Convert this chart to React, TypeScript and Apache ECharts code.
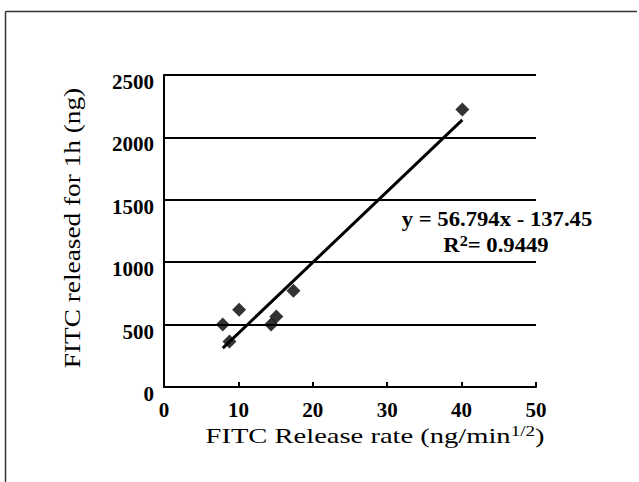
import React, { useEffect, useRef } from "react";
import * as echarts from "echarts";

const releaseRate = [7.9, 8.8, 10.1, 14.4, 15.1, 17.4, 40.1];
const released = [500, 365, 619, 500, 564, 771, 2223];
const slope = 56.794;
const intercept = -137.45;
const rSquared = "0.9449";
const xTicks = [0, 10, 20, 30, 40, 50];
const yTicks = [0, 500, 1000, 1500, 2000, 2500];

const FONT = "Liberation Serif";

export default function App() {
  const ref = useRef<HTMLDivElement>(null);
  useEffect(() => {
    if (!ref.current) return;
    const chart = echarts.init(ref.current, null, { renderer: "svg" });
    const pts = releaseRate.map((x, i) => [x, released[i]]);
    const xMin = Math.min(...releaseRate);
    const xMax = Math.max(...releaseRate);
    const trend = [
      [xMin, slope * xMin + intercept],
      [xMax, slope * xMax + intercept],
    ];
    chart.setOption({
      animation: false,
      backgroundColor: "#ffffff",
      grid: { left: 164, right: 103, top: 75, bottom: 95, containLabel: false },
      xAxis: {
        type: "value",
        min: xTicks[0],
        max: xTicks[xTicks.length - 1],
        interval: 10,
        axisLine: { show: true, onZero: false, lineStyle: { color: "#000", width: 2 } },
        axisTick: { show: true, inside: true, length: 5, lineStyle: { color: "#000", width: 2 } },
        splitLine: { show: false },
        axisLabel: {
          color: "#000",
          fontFamily: FONT,
          fontWeight: "bold",
          fontSize: 21,
          margin: 12,
        },
      },
      yAxis: {
        type: "value",
        min: yTicks[0],
        max: yTicks[yTicks.length - 1],
        interval: 500,
        axisLine: { show: true, lineStyle: { color: "#000", width: 2 } },
        axisTick: { show: false },
        splitLine: { show: true, lineStyle: { color: "#000", width: 2 } },
        axisLabel: {
          color: "#000",
          fontFamily: FONT,
          fontWeight: "bold",
          fontSize: 21,
          margin: 10,
          verticalAlign: "top",
          lineHeight: 14,
          formatter: (v: number) => String(v),
        },
      },
      series: [
        {
          type: "line",
          data: trend,
          symbol: "none",
          lineStyle: { color: "#000", width: 3 },
          z: 2,
        },
        {
          type: "scatter",
          data: pts,
          symbol: "diamond",
          symbolSize: 14,
          itemStyle: { color: "#000" },
          z: 3,
        },
      ],
      graphic: [
        {
          type: "line",
          shape: { x1: 5.5, y1: 11.5, x2: 637, y2: 11.5 },
          style: { stroke: "#333", lineWidth: 1.5 },
        },
        {
          type: "line",
          shape: { x1: 5.5, y1: 11.5, x2: 5.5, y2: 482 },
          style: { stroke: "#333", lineWidth: 1.5 },
        },
        {
          type: "text",
          x: 375,
          y: 436,
          scaleX: 1.36,
          style: {
            text: "{m|FITC Release rate (ng/min}{s|1/2}{m|)}",
            align: "center",
            verticalAlign: "middle",
            rich: {
              m: { fontFamily: FONT, fontSize: 21, fill: "#000", lineHeight: 24 },
              s: { fontFamily: FONT, fontSize: 14, fill: "#000", verticalAlign: "top", lineHeight: 15 },
            },
          },
        },
        {
          type: "text",
          x: 72,
          y: 228,
          rotation: Math.PI / 2,
          scaleX: 1.3,
          scaleY: 1.05,
          style: {
            text: "FITC released for 1h (ng)",
            fontFamily: FONT,
            fontSize: 21,
            fill: "#000",
            align: "center",
            verticalAlign: "middle",
          },
        },
        {
          type: "text",
          x: 497,
          y: 219,
          scaleX: 1.08,
          style: {
            text: `y = ${slope}x - ${Math.abs(intercept)}`,
            fontFamily: FONT,
            fontSize: 21,
            fontWeight: "bold",
            fill: "#000",
            align: "center",
            verticalAlign: "middle",
          },
        },
        {
          type: "text",
          x: 496,
          y: 245,
          scaleX: 1.08,
          style: {
            text: `{m|R}{s|2}{m|= ${rSquared}}`,
            align: "center",
            verticalAlign: "middle",
            rich: {
              m: { fontFamily: FONT, fontSize: 21, fontWeight: "bold", fill: "#000", lineHeight: 24 },
              s: { fontFamily: FONT, fontSize: 15, fontWeight: "bold", fill: "#000", verticalAlign: "top", lineHeight: 16 },
            },
          },
        },
      ],
    });
    return () => chart.dispose();
  }, []);
  return (
    <div
      ref={ref}
      style={{ position: "fixed", left: 0, top: 0, width: 639, height: 482, background: "#fff" }}
    />
  );
}
